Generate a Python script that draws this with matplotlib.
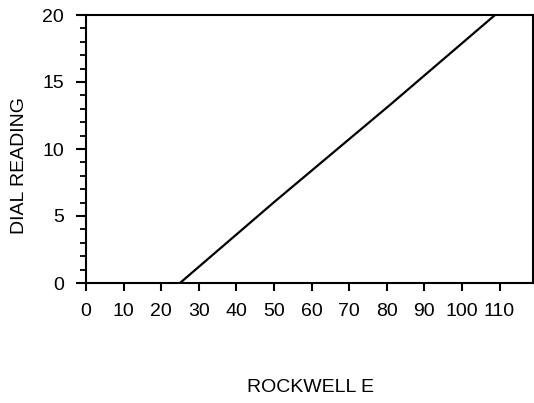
import numpy as np
import matplotlib
matplotlib.use('Agg')
import matplotlib.pyplot as plt
from matplotlib.ticker import MultipleLocator

# calibration line
rockwell_e = [25.0, 50.3, 80.9, 108.8]
dial_reading = [0.0, 6.1, 13.3, 20.0]

x_ticks = list(range(0, 111, 10))
y_ticks = [0, 5, 10, 15, 20]

plt.rcParams['font.family'] = ['Liberation Sans', 'DejaVu Sans']

fig = plt.figure(figsize=(5.34, 4.03), dpi=100)
ax = fig.add_axes([86 / 534, 1 - 283 / 403, (533 - 86) / 534, (283 - 15) / 403])

ax.plot(rockwell_e, dial_reading, color="black", linewidth=1.6, solid_capstyle="butt")

ax.set_xlim(0, 118.9)
ax.set_ylim(0, 20)
ax.set_xticks(x_ticks)
ax.set_yticks(y_ticks)
ax.yaxis.set_minor_locator(MultipleLocator(1))

for s in ax.spines.values():
    s.set_linewidth(1.5)

ax.tick_params(axis="x", direction="out", length=6, width=1.5, pad=8.5, labelsize=14)
ax.tick_params(axis="y", which="major", direction="out", length=7, width=1.5, pad=9, labelsize=14)
ax.tick_params(axis="y", which="minor", direction="out", length=4.5, width=1.3)

fig.text(20 / 534, 1 - 165 / 403, "DIAL READING", rotation=90,
         ha="center", va="center", fontsize=14)
fig.text(310.5 / 534, 1 - 388 / 403, "ROCKWELL E", ha="center", va="center", fontsize=14)

fig.savefig("out.png", dpi=100)
plt.close(fig)
